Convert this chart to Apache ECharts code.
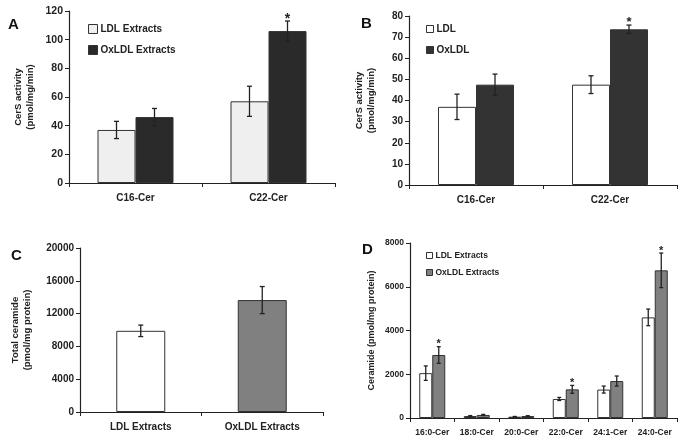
<!DOCTYPE html>
<html><head><meta charset="utf-8">
<script src="https://cdn.jsdelivr.net/npm/echarts@6/dist/echarts.min.js"></script>
<style>html,body{margin:0;padding:0;background:#fff}#c{width:683px;height:442px}</style>
</head><body><div id="c"></div>
<script>
// Panel A
const catsA = ['C16-Cer', 'C22-Cer'];
const ldlA = [37, 57];
const ldlAErr = [6, 10.5];
const oxA = [46, 106];
const oxAErr = [6, 7];
const sigA = [0, 1];
// Panel B
const catsB = ['C16-Cer', 'C22-Cer'];
const ldlB = [37, 47.5];
const ldlBErr = [6, 4.2];
const oxB = [47.5, 73.7];
const oxBErr = [5, 2];
const sigB = [0, 1];
// Panel C
const catsC = ['LDL Extracts', 'OxLDL Extracts'];
const valsC = [9900, 13650];
const errC = [700, 1650];
// Panel D
const catsD = ['16:0-Cer', '18:0-Cer', '20:0-Cer', '22:0-Cer', '24:1-Cer', '24:0-Cer'];
const ldlD = [2050, 90, 60, 870, 1300, 4600];
const ldlDErr = [330, 20, 10, 70, 160, 380];
const oxD = [2880, 140, 90, 1310, 1690, 6750];
const oxDErr = [380, 25, 15, 180, 230, 790];
const sigD = [1, 0, 0, 1, 0, 1];

const FONT = 'Liberation Sans, Arial, sans-serif';
const AX = '#222';

function errSeries(idx, vals, errs, off, cap) {
  return {
    type: 'custom', xAxisIndex: idx, yAxisIndex: idx, z: 10, silent: true,
    encode: {x: 0, y: 1},
    data: vals.map((v, i) => [i, v, errs[i]]),
    renderItem: (p, api) => {
      const i = api.value(0), v = api.value(1), e = api.value(2);
      const t = api.coord([i, v + e]), b = api.coord([i, v - e]);
      const x = t[0] + off;
      const st = {stroke: AX, lineWidth: 1.3};
      return {type: 'group', children: [
        {type: 'line', shape: {x1: x, y1: t[1], x2: x, y2: b[1]}, style: st},
        {type: 'line', shape: {x1: x - cap, y1: t[1], x2: x + cap, y2: t[1]}, style: st},
        {type: 'line', shape: {x1: x - cap, y1: b[1], x2: x + cap, y2: b[1]}, style: st}
      ]};
    }
  };
}
function starSeries(idx, vals, errs, sig, off, fs) {
  return {
    type: 'custom', xAxisIndex: idx, yAxisIndex: idx, z: 11, silent: true,
    encode: {x: 0, y: 1},
    data: vals.map((v, i) => [i, v + errs[i], sig[i]]),
    renderItem: (p, api) => {
      if (!api.value(2)) return null;
      const c = api.coord([api.value(0), api.value(1)]);
      return {type: 'text', x: c[0] + off, y: c[1] + fs * 0.55 - 3,
        style: {text: '*', font: 'bold ' + fs + 'px ' + FONT, fill: AX, align: 'center', verticalAlign: 'bottom'}};
    }
  };
}
function xAx(idx, cats, fs) {
  return {type: 'category', gridIndex: idx, data: cats,
    axisLine: {lineStyle: {color: AX, width: 1.2}},
    axisTick: {show: true, interval: 0, length: 4, lineStyle: {color: AX}},
    axisLabel: {color: AX, fontWeight: 'bold', fontSize: fs, fontFamily: FONT, margin: 10, interval: 0}};
}
function yAx(idx, max, interval, name, gap, fs, nfs) {
  return {type: 'value', gridIndex: idx, min: 0, max: max, interval: interval,
    name: name, nameLocation: 'middle', nameRotate: 90, nameGap: gap,
    nameTextStyle: {color: AX, fontWeight: 'bold', fontSize: nfs, fontFamily: FONT, lineHeight: nfs + 2},
    splitLine: {show: false},
    axisLine: {show: true, lineStyle: {color: AX, width: 1.2}},
    axisTick: {show: true, length: 4, lineStyle: {color: AX}},
    axisLabel: {color: AX, fontWeight: 'bold', fontSize: fs, fontFamily: FONT, margin: 6,
      formatter: v => String(v)}};
}
function bar(idx, name, vals, color, w) {
  return {type: 'bar', name: name, xAxisIndex: idx, yAxisIndex: idx, data: vals, barWidth: w, barGap: '0%',
    itemStyle: {color: color, borderColor: '#333', borderWidth: 1}, silent: true};
}
function leg(left, top, items, fs, size, gap) {
  return {left: left, top: top, orient: 'vertical', itemWidth: size, itemHeight: size, itemGap: gap,
    icon: 'rect', selectedMode: false, padding: 0,
    textStyle: {color: AX, fontWeight: 'bold', fontSize: fs, fontFamily: FONT, padding: [0, 0, 0, -2]},
    data: items.map(it => ({name: it[0], itemStyle: {color: it[1], borderColor: '#333', borderWidth: 1}}))};
}

const chart = echarts.init(document.getElementById('c'), null, {renderer: 'canvas'});
chart.setOption({
  animation: false,
  backgroundColor: '#fff',
  grid: [
    {left: 69, right: 348, top: 11, bottom: 259},
    {left: 409, right: 6, top: 16, bottom: 257},
    {left: 80, right: 360, top: 248, bottom: 30},
    {left: 410, right: 6, top: 243, bottom: 24}
  ],
  xAxis: [xAx(0, catsA, 10), xAx(1, catsB, 10), xAx(2, catsC, 10), xAx(3, catsD, 8.5)],
  yAxis: [
    yAx(0, 120, 20, 'CerS activity\n(pmol/mg/min)', 33, 10.5, 9.5),
    yAx(1, 80, 10, 'CerS activity\n(pmol/mg/min)', 32, 10, 9.5),
    yAx(2, 20000, 4000, 'Total ceramide\n(pmol/mg protein)', 47, 10, 9.5),
    yAx(3, 8000, 2000, 'Ceramide (pmol/mg protein)', 33, 8.5, 9)
  ],
  legend: [
    leg(88, 24, [['LDL Extracts', '#efefef'], ['OxLDL Extracts', '#2a2a2a']], 10, 9, 11),
    leg(426, 24, [['LDL', '#ffffff'], ['OxLDL', '#333333']], 10, 7, 11),
    leg(426, 251, [['LDL Extracts ', '#ffffff'], ['OxLDL Extracts ', '#808080']], 8.5, 6, 8)
  ],
  series: [
    bar(0, 'LDL Extracts', ldlA, '#efefef', 38),
    bar(0, 'OxLDL Extracts', oxA, '#2a2a2a', 38),
    errSeries(0, ldlA, ldlAErr, -19, 2.5),
    errSeries(0, oxA, oxAErr, 19, 2.5),
    starSeries(0, oxA, oxAErr, sigA, 19, 14),
    bar(1, 'LDL', ldlB, '#ffffff', 38),
    bar(1, 'OxLDL', oxB, '#333333', 38),
    errSeries(1, ldlB, ldlBErr, -19, 2.5),
    errSeries(1, oxB, oxBErr, 19, 2.5),
    starSeries(1, oxB, oxBErr, sigB, 19, 13),
    {type: 'bar', name: 'C', xAxisIndex: 2, yAxisIndex: 2, barWidth: 49, silent: true,
      data: valsC.map((v, i) => ({value: v, itemStyle: {color: i === 0 ? '#ffffff' : '#808080', borderColor: '#333', borderWidth: 1}}))},
    errSeries(2, valsC, errC, 0, 2.5),
    bar(3, 'LDL Extracts ', ldlD, '#ffffff', 13),
    bar(3, 'OxLDL Extracts ', oxD, '#808080', 13),
    errSeries(3, ldlD, ldlDErr, -6.5, 2),
    errSeries(3, oxD, oxDErr, 6.5, 2),
    starSeries(3, oxD, oxDErr, sigD, 6.5, 11)
  ],
  graphic: [
    {type: 'text', left: 8, top: 17, style: {text: 'A', font: 'bold 15px ' + FONT, fill: '#111'}},
    {type: 'text', left: 361, top: 16, style: {text: 'B', font: 'bold 15px ' + FONT, fill: '#111'}},
    {type: 'text', left: 11, top: 248, style: {text: 'C', font: 'bold 15px ' + FONT, fill: '#111'}},
    {type: 'text', left: 362, top: 242, style: {text: 'D', font: 'bold 15px ' + FONT, fill: '#111'}}
  ]
});
</script></body></html>
